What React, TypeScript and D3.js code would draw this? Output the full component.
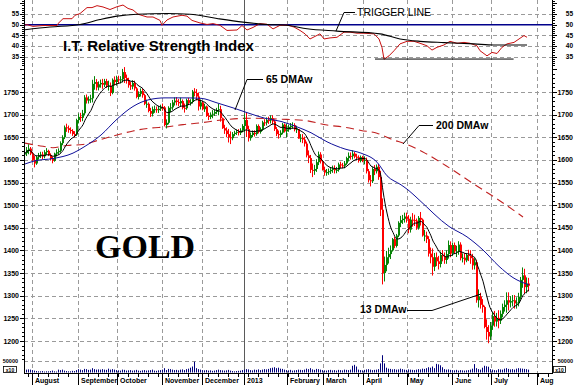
import React from 'react';
import * as d3 from 'd3';

const W = 577;
const H = 385;

// daily closes, one per trading day (late Jul 2012 .. late Jul 2013)
const closes = [
  1615, 1622, 1625, 1614,
  // Aug
  1600, 1592, 1606, 1610, 1612, 1608, 1617, 1620, 1611, 1602, 1598, 1614, 1617, 1620, 1637, 1650, 1672, 1670, 1666, 1664, 1657, 1656, 1688,
  // Sep
  1695, 1693, 1703, 1738, 1731, 1734, 1736, 1768, 1772, 1760, 1767, 1770, 1766, 1774, 1764, 1764, 1748, 1777, 1772,
  // Oct
  1778, 1776, 1778, 1794, 1781, 1776, 1765, 1762, 1770, 1758, 1739, 1746, 1752, 1743, 1724, 1724, 1708, 1702, 1712, 1712, 1710, 1713, 1717,
  // Nov
  1716, 1677, 1682, 1715, 1716, 1727, 1731, 1728, 1725, 1730, 1715, 1714, 1732, 1726, 1728, 1751, 1748, 1740, 1718, 1727, 1712,
  // Dec
  1718, 1697, 1695, 1700, 1702, 1706, 1710, 1712, 1692, 1670, 1665, 1657, 1650, 1648, 1657, 1660, 1662, 1660, 1665, 1675,
  // Jan
  1688, 1668, 1648, 1655, 1660, 1657, 1675, 1662, 1668, 1683, 1682, 1688, 1687, 1692, 1685, 1668, 1657, 1655, 1660, 1678, 1663,
  // Feb
  1667, 1673, 1675, 1677, 1667, 1668, 1647, 1649, 1645, 1636, 1610, 1604, 1578, 1576, 1580, 1595, 1612, 1597, 1578,
  // Mar
  1572, 1573, 1575, 1578, 1581, 1577, 1578, 1590, 1588, 1587, 1592, 1604, 1609, 1608, 1614, 1607, 1606, 1598, 1606, 1598,
  // Apr
  1600, 1575, 1555, 1553, 1580, 1575, 1585, 1562, 1490, 1350, 1368, 1385, 1392, 1400, 1425, 1410, 1433, 1461, 1467, 1470, 1475, 1470,
  // May
  1446, 1468, 1467, 1466, 1450, 1472, 1468, 1433, 1433, 1425, 1393, 1385, 1364, 1385, 1376, 1370, 1390, 1387, 1379, 1392, 1412, 1393,
  // Jun
  1412, 1398, 1398, 1413, 1383, 1384, 1378, 1390, 1388, 1383, 1367, 1374, 1290, 1298, 1280, 1275, 1231, 1220, 1210, 1234,
  // Jul
  1255, 1243, 1251, 1245, 1260, 1275, 1280, 1290, 1285, 1288, 1290, 1283, 1285, 1298, 1335, 1345, 1319, 1327, 1322,
];
const firstOpen = 1612;

// daily high-low range
const ranges = [
  18, 20, 22, 18,
  22, 25, 20, 15, 14, 16, 18, 15, 14, 16, 15, 20, 16, 14, 25, 22, 30, 18, 16, 14, 15, 14, 38,
  22, 20, 25, 45, 20, 16, 18, 50, 30, 25, 20, 18, 22, 18, 20, 22, 30, 35, 20,
  22, 18, 16, 30, 35, 20, 22, 18, 20, 22, 25, 18, 18, 20, 25, 18, 22, 20, 22, 16, 14, 16, 14,
  16, 45, 20, 40, 20, 22, 18, 18, 16, 20, 22, 20, 25, 16, 14, 30, 18, 25, 40, 22, 20,
  18, 25, 16, 15, 18, 14, 14, 25, 35, 25, 20, 22, 30, 28, 18, 12, 12, 14, 15, 18,
  40, 55, 35, 18, 15, 14, 25, 20, 14, 22, 15, 18, 16, 18, 20, 25, 20, 18, 16, 25, 20,
  30, 16, 15, 14, 18, 16, 20, 18, 20, 22, 35, 28, 40, 30, 22, 28, 30, 25, 22,
  20, 15, 14, 15, 16, 18, 14, 20, 14, 12, 16, 18, 20, 16, 20, 14, 14, 16, 15, 14,
  18, 35, 30, 25, 35, 22, 20, 35, 100, 190, 55, 45, 35, 30, 30, 25, 30, 35, 25, 20, 22, 22,
  40, 35, 30, 25, 25, 30, 30, 40, 25, 25, 45, 35, 60, 40, 30, 30, 35, 25, 25, 30, 40, 35,
  30, 25, 25, 30, 40, 20, 25, 20, 25, 30, 35, 25, 95, 40, 35, 30, 50, 45, 40, 40,
  40, 35, 30, 40, 30, 30, 25, 45, 40, 25, 25, 30, 25, 30, 50, 45, 55, 35, 30,
];

// volume, thousands (axis label 50000)
const volumes = [
  30, 12, 13, 12,
  10, 8, 6, 5, 5, 6, 4, 5, 5, 6, 8, 5, 4, 12, 10, 12, 8, 6, 5, 5, 7, 6, 10,
  14, 12, 10, 15, 14, 11, 12, 18, 14, 12, 13, 12, 14, 12, 11, 16, 12, 14, 12,
  10, 9, 8, 12, 11, 8, 9, 10, 8, 9, 11, 8, 7, 9, 10, 8, 9, 10, 12, 8, 7, 9, 10,
  12, 18, 10, 15, 14, 12, 10, 11, 9, 12, 13, 10, 14, 16, 20, 25, 45, 18, 14, 12, 10,
  9, 10, 8, 9, 7, 8, 10, 12, 10, 9, 8, 9, 11, 8, 6, 5, 6, 7, 8, 10,
  12, 14, 13, 10, 9, 12, 11, 13, 10, 12, 14, 13, 15, 18, 20, 22, 18, 20, 16, 15, 12,
  10, 9, 11, 8, 9, 10, 12, 11, 10, 12, 16, 14, 18, 13, 11, 15, 14, 12, 10,
  9, 8, 10, 11, 9, 10, 8, 11, 10, 9, 12, 11, 10, 12, 28, 32, 25, 12, 10, 9,
  11, 13, 14, 12, 10, 11, 12, 14, 38, 72, 38, 20, 16, 15, 13, 14, 12, 13, 16, 14, 12, 11,
  13, 12, 11, 10, 12, 14, 13, 16, 15, 18, 22, 20, 25, 18, 36, 34, 30, 22, 14, 12, 13, 11,
  10, 9, 11, 8, 10, 9, 8, 9, 10, 12, 16, 35, 18, 14, 12, 20, 28, 26, 24, 14,
  12, 10, 9, 14, 13, 12, 16, 18, 15, 13, 14, 12, 16, 18, 17, 16, 15, 14, 12,
];

// 65 DMAw (day index, value)
const ma65Day = [0, 5, 14, 24, 30, 38, 46, 54, 62, 70, 80, 88, 96, 104, 112, 120, 128, 136, 143, 151, 160, 168, 176, 181, 188, 192, 197, 212, 221, 229, 237, 244, 252];
const ma65Value = [1591, 1598, 1603, 1615, 1630, 1655, 1690, 1718, 1733, 1737, 1737, 1736, 1726, 1715, 1703, 1692, 1685, 1673, 1660, 1640, 1624, 1615, 1595, 1565, 1545, 1532, 1512, 1453, 1430, 1401, 1365, 1340, 1324];

// 200 DMAw
const ma200Day = [0, 9, 14, 21, 29, 37, 46, 54, 62, 71, 79, 88, 96, 112, 128, 140, 151, 160, 168, 176, 183, 191, 200, 212, 225, 237, 249];
const ma200Value = [1637, 1630, 1627, 1632, 1634, 1644, 1655, 1664, 1670, 1673, 1678, 1682, 1687, 1692, 1690, 1687, 1677, 1672, 1665, 1659, 1646, 1634, 1615, 1583, 1545, 1511, 1474];

// I.T. relative strength index
const rsiDay = [0, 1, 4, 9, 12.5, 16, 16.5, 19, 23.5, 25, 27.5, 31, 33.5, 36, 39, 42.5, 46, 49, 51.5, 54, 56.5, 61, 64, 67.5, 68.5, 71, 74, 78.5, 81, 83.5, 87.5, 91, 94, 97.5, 101, 106, 108.5, 111, 114, 117.5, 121, 124, 127.5, 131, 134.5, 137.5, 140, 142.5, 145, 147.5, 149.5, 152.5, 156, 159.5, 162.5, 166, 169.5, 174.5, 177, 178.5, 179.5, 182, 184.5, 187.5, 191, 194.5, 197.5, 201, 203.5, 206, 209.5, 212.5, 216, 219.5, 222.5, 226, 227.5, 231, 233.5, 236, 238.5, 241, 244.5, 247, 249.5, 251];
const rsiValue = [49.8, 50.0, 49.2, 49.6, 49.6, 49.6, 50.5, 52.8, 52.8, 54.4, 55.2, 58, 58, 58.9, 58.3, 57.1, 58.4, 59.2, 57.6, 56.9, 54.9, 53.6, 53.6, 52, 49.7, 52.2, 53.6, 54.4, 54, 52, 50.8, 50.1, 50.5, 49.7, 47.3, 47.5, 49.6, 47.5, 48.7, 50.5, 50.2, 48, 49.7, 49.8, 48.9, 47.3, 45.7, 43.3, 44.5, 45.7, 43.3, 43.8, 44.1, 46.5, 46.5, 46, 46, 45.7, 43.3, 39.3, 33.8, 35.4, 37.8, 41, 42.2, 42.2, 41.3, 40.1, 38.1, 39.4, 40.5, 42.2, 41.3, 41.7, 41.3, 40.1, 37.8, 35.4, 37, 36.5, 39.4, 41, 41.7, 43.3, 44.9, 44.1];

const triggerDay = [0, 12.5, 27.5, 37.5, 46, 56, 71, 82.5, 96, 109, 121, 131, 141, 156, 177.5, 187.5, 197.5, 209.5, 224.5, 234.5, 251];
const triggerValue = [47.6, 48.9, 50.1, 52.4, 54, 54.9, 55.2, 54.9, 52.9, 51.2, 50.1, 49.7, 48.1, 47, 45.7, 43.3, 42.2, 41.6, 41, 40.5, 40.5];

const rsiFloorDay = [175, 244.3];
const rsiFloorValue = [33.9, 33.9];

const monthNames = ['August', 'September', 'October', 'November', 'December', '2013', 'February', 'March', 'April', 'May', 'June', 'July', 'Aug'];
const monthDay = [3.5, 26.5, 46, 68.5, 88.5, 109.5, 131, 149, 169, 191, 213.5, 233, 256];
const priceTicks = [1200, 1250, 1300, 1350, 1400, 1450, 1500, 1550, 1600, 1650, 1700, 1750];
const rsiTicks = [35, 40, 45, 50, 55];

const FONT = 'Liberation Sans, Arial, sans-serif';
const GRID = '#9a9a9a';

export default function App() {
  const xs = d3.scaleLinear().domain([0, 263]).range([25, 551]);
  const yP = d3.scaleLinear().domain([1200, 1750]).range([341, 92]);
  const yR = d3.scaleLinear().domain([35, 55]).range([56.7, 14]);
  const yV = d3.scaleLinear().domain([0, 50]).range([372.5, 360.5]);

  const left = 24;
  const right = 552;
  const bottom = 373;
  const split = 67;

  // 13 day weighted average of the closes
  const wma13 = closes.map((_, i) => {
    let num = 0;
    let den = 0;
    for (let k = 0; k < 13 && i - k >= 0; k++) {
      const w = 13 - k;
      num += closes[i - k] * w;
      den += w;
    }
    return num / den;
  });

  const priceLine = d3.line<[number, number]>()
    .x(d => xs(d[0]))
    .y(d => yP(d[1]))
    .curve(d3.curveMonotoneX);
  const rsiLine = d3.line<[number, number]>()
    .x(d => xs(d[0]))
    .y(d => yR(d[1]));
  const triggerLine = d3.line<[number, number]>()
    .x(d => xs(d[0]))
    .y(d => yR(d[1]))
    .curve(d3.curveMonotoneX);

  const zip = (a: number[], b: number[]) => a.map((v, i) => [v, b[i]] as [number, number]);

  const candles = closes.map((c, i) => {
    const o = i === 0 ? firstOpen : closes[i - 1];
    const top = Math.max(o, c);
    const bot = Math.min(o, c);
    const extra = Math.max(0, ranges[i] - (top - bot)) / 2;
    return { i, o, c, hi: top + extra, lo: bot - extra, up: c >= o };
  });

  const priceMinor = d3.range(1160, 1801, 10);
  const rsiMinor = d3.range(31, 62, 1);
  const weekTicks = d3.range(1.5, 262, 5);

  return (
    <svg width={W} height={H} viewBox={`0 0 ${W} ${H}`}
      style={{ position: 'absolute', left: 0, top: 0, background: '#fff' }}
      fontFamily={FONT}>
      <defs>
        <clipPath id="pricePanel"><rect x={left} y={split} width={right - left} height={bottom - split} /></clipPath>
        <clipPath id="rsiPanel"><rect x={left} y={0} width={right - left} height={split} /></clipPath>
      </defs>
      <rect x={0} y={0} width={W} height={H} fill="#fff" />

      {/* grid */}
      {priceTicks.map(v => (
        <line key={`gp${v}`} x1={left} x2={right} y1={Math.round(yP(v)) + 0.5} y2={Math.round(yP(v)) + 0.5}
          stroke={GRID} strokeDasharray="4,3" />
      ))}
      <line x1={left} x2={right} y1={Math.round(yV(50)) + 0.5} y2={Math.round(yV(50)) + 0.5} stroke={GRID} strokeDasharray="4,3" />
      {rsiTicks.filter(v => v !== 50).map(v => (
        <line key={`gr${v}`} x1={left} x2={right} y1={Math.round(yR(v)) + 0.5} y2={Math.round(yR(v)) + 0.5}
          stroke={GRID} strokeDasharray="4,3" />
      ))}
      {monthDay.map((d, k) => monthNames[k] === '2013' ? null : (
        <line key={`gv${k}`} x1={Math.round(xs(d)) + 0.5} x2={Math.round(xs(d)) + 0.5} y1={0} y2={bottom}
          stroke={GRID} strokeDasharray="4,3" />
      ))}
      <line x1={Math.round(xs(109.5)) + 0.5} x2={Math.round(xs(109.5)) + 0.5} y1={0} y2={bottom} stroke="#5a5a5a" strokeWidth={1} />

      {/* RSI panel */}
      <g clipPath="url(#rsiPanel)">
        <line x1={left} x2={right} y1={yR(50)} y2={yR(50)} stroke="#00008b" strokeWidth={1.4} />
        <path d={rsiLine(zip(rsiDay, rsiValue)) || ''} fill="none" stroke="#c81010" strokeWidth={1} />
        <path d={triggerLine(zip(triggerDay, triggerValue)) || ''} fill="none" stroke="#000" strokeWidth={1.1} />
        <path d={rsiLine(zip(rsiFloorDay, rsiFloorValue)) || ''} fill="none" stroke="#000" strokeWidth={1} />
      </g>

      {/* price panel */}
      <g clipPath="url(#pricePanel)">
        {volumes.map((v, i) => (
          <line key={`v${i}`} x1={xs(i) - 0.5} x2={xs(i) - 0.5} y1={yV(0)} y2={yV(v)} stroke="#00007a" strokeWidth={1} />
        ))}
        <path d={priceLine(zip(ma200Day, ma200Value)) || ''} fill="none" stroke="#c02020" strokeWidth={1.1} strokeDasharray="8,5" />
        {candles.map(d => {
          const col = d.up ? '#078307' : '#ff0000';
          const yTop = yP(Math.max(d.o, d.c));
          const yBot = yP(Math.min(d.o, d.c));
          return (
            <g key={`c${d.i}`}>
              <line x1={xs(d.i) - 0.5} x2={xs(d.i) - 0.5} y1={yP(d.hi)} y2={yP(d.lo)} stroke={col} strokeWidth={1} />
              <rect x={xs(d.i) - 1} y={yTop} width={2} height={Math.max(1, yBot - yTop)} fill={col} />
            </g>
          );
        })}
        <path d={priceLine(zip(ma65Day, ma65Value)) || ''} fill="none" stroke="#10109a" strokeWidth={1} />
        <path d={priceLine(wma13.map((v, i) => [i, v] as [number, number])) || ''} fill="none" stroke="#000" strokeWidth={1} />
      </g>

      {/* axes */}
      <line x1={left + 0.5} x2={left + 0.5} y1={0} y2={bottom} stroke="#000" />
      <line x1={right + 0.5} x2={right + 0.5} y1={0} y2={bottom} stroke="#000" />
      <line x1={left} x2={right + 1} y1={bottom + 0.5} y2={bottom + 0.5} stroke="#000" />
      {priceMinor.map(v => {
        const y = Math.round(yP(v)) + 0.5;
        const major = v % 50 === 0;
        return (
          <g key={`pt${v}`}>
            <line x1={left - (major ? 4 : 2)} x2={left} y1={y} y2={y} stroke="#000" />
            <line x1={right + 1} x2={right + (major ? 5 : 3)} y1={y} y2={y} stroke="#000" />
          </g>
        );
      })}
      {rsiMinor.map(v => {
        const y = Math.round(yR(v)) + 0.5;
        const major = v % 5 === 0;
        return (
          <g key={`rt${v}`}>
            <line x1={left - (major ? 4 : 2)} x2={left} y1={y} y2={y} stroke="#000" />
            <line x1={right + 1} x2={right + (major ? 5 : 3)} y1={y} y2={y} stroke="#000" />
          </g>
        );
      })}
      {priceTicks.map(v => (
        <g key={`pl${v}`} fontSize={7} fontWeight="bold">
          <text x={19} y={yP(v) + 2.5} textAnchor="end">{v}</text>
          <text x={573} y={yP(v) + 2.5} textAnchor="end">{v}</text>
        </g>
      ))}
      {rsiTicks.map(v => (
        <g key={`rl${v}`} fontSize={6.5} fontWeight="bold">
          <text x={19} y={yR(v) + 2.3} textAnchor="end">{v}</text>
          <text x={573} y={yR(v) + 2.3} textAnchor="end">{v}</text>
        </g>
      ))}
      <g fontSize={5.5} fontWeight="bold">
        <text x={18} y={yV(50) + 2} textAnchor="end">50000</text>
        <text x={573} y={yV(50) + 2} textAnchor="end">50000</text>
      </g>
      <g fontSize={5} fontWeight="bold">
        <rect x={3.5} y={366.5} width={13} height={6} fill="#fff" stroke="#000" strokeWidth={0.8} />
        <text x={10} y={371.5} textAnchor="middle">x10</text>
        <rect x={553.5} y={366.5} width={12} height={6} fill="#fff" stroke="#000" strokeWidth={0.8} />
        <text x={559.5} y={371.5} textAnchor="middle">x10</text>
      </g>

      {/* time axis */}
      {weekTicks.map(d => (
        <line key={`wt${d}`} x1={Math.round(xs(d)) + 0.5} x2={Math.round(xs(d)) + 0.5} y1={bottom} y2={bottom + 4} stroke="#000" />
      ))}
      {monthDay.map((d, k) => (
        <g key={`m${k}`}>
          <line x1={Math.round(xs(d)) + 0.5} x2={Math.round(xs(d)) + 0.5} y1={bottom} y2={H} stroke="#000" />
          <text x={Math.round(xs(d)) + 3} y={383} fontSize={7} fontWeight="bold">{monthNames[k]}</text>
        </g>
      ))}

      {/* annotations */}
      <text x={63} y={51} fontSize={15} fontWeight="bold">I.T. Relative Strength Index</text>
      <text x={357} y={15.5} fontSize={10.5}>TRIGGER LINE</text>
      <polyline points="355,12.5 344,12.5 336,31" fill="none" stroke="#000" />
      <text x={266} y={83} fontSize={10.5} fontWeight="bold">65 DMAw</text>
      <polyline points="263,79.5 247,79.5 235,110" fill="none" stroke="#000" />
      <text x={436} y={129} fontSize={10.5} fontWeight="bold">200 DMAw</text>
      <polyline points="433,125.5 419,125.5 403,144" fill="none" stroke="#000" />
      <text x={360} y={313} fontSize={10.5} fontWeight="bold">13 DMAw</text>
      <polyline points="407,310.5 432,310.5 481,294" fill="none" stroke="#000" />
      <text x={95} y={258} fontSize={34} fontWeight="bold" fontFamily="Liberation Serif, Times New Roman, serif">GOLD</text>
    </svg>
  );
}
